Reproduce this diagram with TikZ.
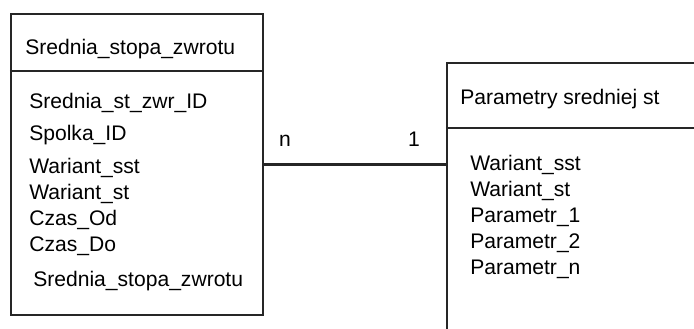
\documentclass[tikz,border=0pt]{standalone}
\usepackage{fontspec}
\setmainfont{Liberation Sans}
\usetikzlibrary{positioning,calc}
\tikzset{
    entity/.style={
        rectangle,
        draw=black!85, line width=1.5pt,
        inner sep=0pt
    },
    attrib/.style={anchor=base west, inner sep=0pt},
    card/.style={inner sep=0pt},
    line/.style={draw=black!85, line width=1.5pt},
    font={\fontsize{15pt}{18pt}\selectfont},
}
\begin{document}
\begin{tikzpicture}[x=0.25mm, y=-0.25mm]
\useasboundingbox (0,0) rectangle (694,329);
\clip (0,0) rectangle (694,329);

% the two tables
\node [entity, minimum width=63mm, minimum height=75.25mm] (stopa) at (137,164.5) {};
\node [entity, minimum width=64mm, minimum height=70mm] (param) at (575,203) {};

\draw [line] (stopa.west |- 0,71) -- (stopa.east |- 0,71);
\draw [line] (param.west |- 0,128) -- (param.east |- 0,128);

\node [attrib] (stopa-title) at (25,55) {Srednia\_stopa\_zwrotu};
\node [attrib] (param-title) at (460,105) {Parametry sredniej st};

\foreach \f/\x/\y [count=\i] in {Srednia\_st\_zwr\_ID/29/109, Spolka\_ID/29/141,
    Wariant\_sst/29/174, Wariant\_st/29/200, Czas\_Od/29/226, Czas\_Do/29/252,
    Srednia\_stopa\_zwrotu/33/287}
  \node [attrib] (stopa-\i) at (\x,\y) {\f};

\foreach \f [count=\i] in {Wariant\_sst, Wariant\_st, Parametr\_1, Parametr\_2, Parametr\_n}
  \node [attrib] (param-\i) at (470,145+\i*26) {\f};

% relation
\draw [line] (stopa.east) -- (stopa.east -| param.west)
    node [card, pos=0, anchor=base west, xshift=3.5mm, yshift=4.5mm] (card-n) {n}
    node [card, pos=1, anchor=base east, xshift=-6.25mm, yshift=4.5mm] (card-1) {1};

\end{tikzpicture}
\end{document}
